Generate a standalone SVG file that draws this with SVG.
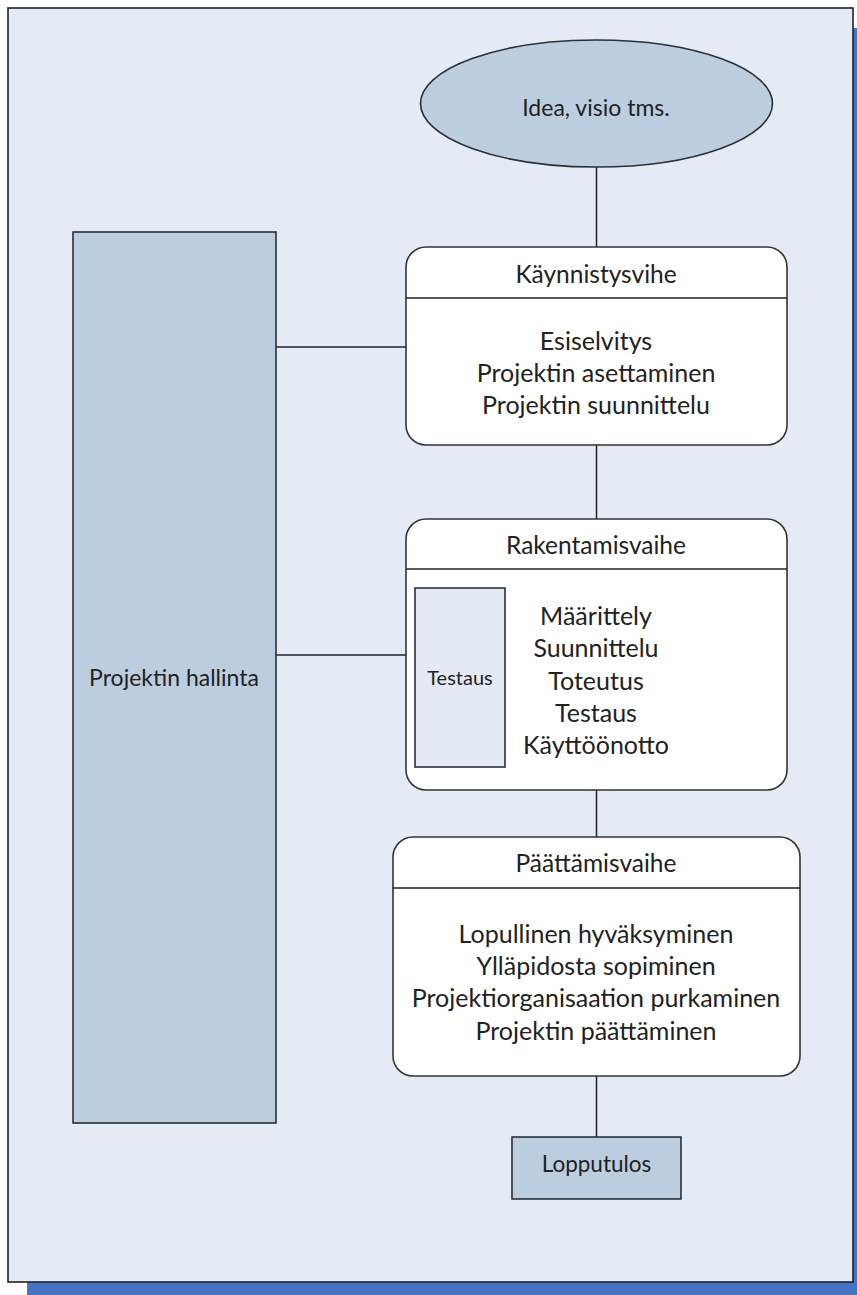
<svg xmlns="http://www.w3.org/2000/svg" width="857" height="1295" viewBox="0 0 857 1295">
<style>
.t{font-family:Lato,"Liberation Sans",sans-serif;fill:#222;text-anchor:middle;dominant-baseline:central}
.b{font-size:25px}
.h{font-size:24.5px}
.ln{stroke:#222;stroke-width:1.5;fill:none}
.box{fill:#fff;stroke:#333;stroke-width:1.6}
.blue{fill:#bdcde0;stroke:#2a2f38;stroke-width:1.6}
</style>
<rect x="27" y="28" width="840" height="1280" fill="#4673c2"/>
<rect x="8" y="8" width="845" height="1274" fill="#e5ebf5" stroke="#1e2228" stroke-width="1.6"/>
<g id="connectors" class="ln">
<line x1="596.5" y1="167" x2="596.5" y2="247"/>
<line x1="596.5" y1="445" x2="596.5" y2="519"/>
<line x1="596.5" y1="790" x2="596.5" y2="837"/>
<line x1="596.5" y1="1076" x2="596.5" y2="1137"/>
<line x1="276" y1="347" x2="406" y2="347"/>
<line x1="276" y1="655" x2="406" y2="655"/>
</g>
<g id="idea">
<ellipse cx="596.5" cy="103.5" rx="176" ry="63.5" class="blue"/>
<text class="t" x="596" y="107" font-size="23">Idea, visio tms.</text>
</g>
<g id="hallinta">
<rect x="73" y="232" width="203" height="891" class="blue"/>
<text class="t" x="174" y="677" font-size="23">Projektin hallinta</text>
</g>
<g id="kaynnistys">
<rect x="406" y="247" width="381" height="198" rx="20" class="box"/>
<line x1="406" y1="298" x2="787" y2="298" class="ln"/>
<text class="t h" x="596" y="273">Käynnistysvihe</text>
<text class="t b" x="596" y="340">Esiselvitys</text>
<text class="t b" x="596" y="372">Projektin asettaminen</text>
<text class="t b" x="596" y="404">Projektin suunnittelu</text>
</g>
<g id="rakentaminen">
<rect x="406" y="519" width="381" height="271" rx="20" class="box"/>
<line x1="406" y1="569" x2="787" y2="569" class="ln"/>
<text class="t h" x="596" y="544">Rakentamisvaihe</text>
<text class="t b" x="596" y="615">Määrittely</text>
<text class="t b" x="596" y="647">Suunnittelu</text>
<text class="t b" x="596" y="680">Toteutus</text>
<text class="t b" x="596" y="712">Testaus</text>
<text class="t b" x="596" y="744">Käyttöönotto</text>
</g>
<g id="testaus">
<rect x="415" y="588" width="90" height="179" fill="#e3eaf4" stroke="#2a2f38" stroke-width="1.6"/>
<text class="t" x="460" y="677" font-size="20">Testaus</text>
</g>
<g id="paattaminen">
<rect x="393" y="837" width="407" height="239" rx="20" class="box"/>
<line x1="393" y1="888" x2="800" y2="888" class="ln"/>
<text class="t h" x="596" y="862">Päättämisvaihe</text>
<text class="t b" x="596" y="933">Lopullinen hyväksyminen</text>
<text class="t b" x="596" y="965">Ylläpidosta sopiminen</text>
<text class="t b" x="596" y="997">Projektiorganisaation purkaminen</text>
<text class="t b" x="596" y="1030">Projektin päättäminen</text>
</g>
<g id="lopputulos">
<rect x="512" y="1137" width="169" height="62" class="blue"/>
<text class="t" x="596.5" y="1163" font-size="22.5">Lopputulos</text>
</g>
</svg>
